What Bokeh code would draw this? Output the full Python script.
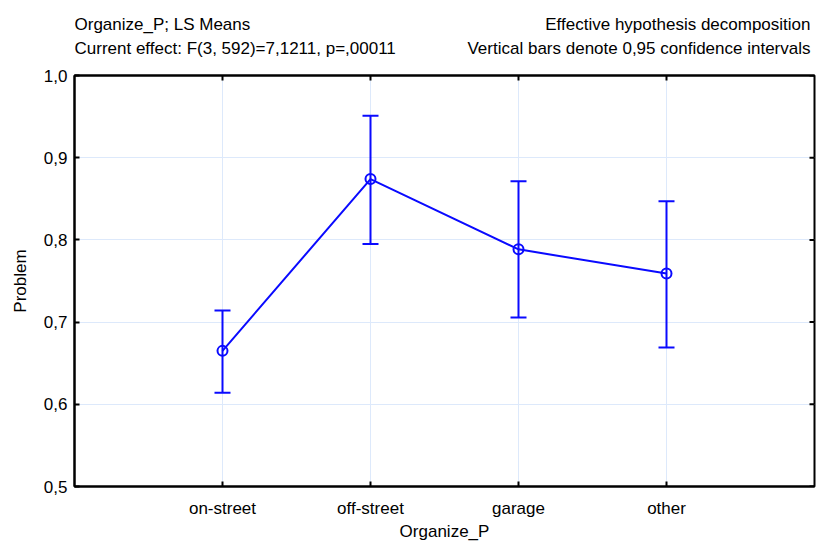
from bokeh.plotting import figure
from bokeh.layouts import column
from bokeh.models import (ColumnDataSource, Whisker, TeeHead, LinearAxis, Range1d,
                          FixedTicker)
from bokeh.core.properties import value
from bokeh.embed import file_html
from bokeh.resources import INLINE

categories = ["on-street", "off-street", "garage", "other"]
means = [0.665, 0.874, 0.7885, 0.759]
upper = [0.714, 0.951, 0.8715, 0.847]
lower = [0.614, 0.795, 0.7055, 0.669]
y_ticks = [0.5, 0.6, 0.7, 0.8, 0.9, 1.0]
y_tick_labels = ["0,5", "0,6", "0,7", "0,8", "0,9", "1,0"]

titles_left = ["Organize_P; LS Means", "Current effect: F(3, 592)=7,1211, p=,00011"]
titles_right = ["Effective hypothesis decomposition",
                "Vertical bars denote 0,95 confidence intervals"]

FONT = "Liberation Sans"
FS = "17px"
BLUE = "#0a0aff"
GRID = "#dde9fb"
W = 816
HEAD_H = 60
MAIN_H = 483
N = len(categories)

# ---- header with the four title texts (frame aligned with the main chart) ----
head = figure(width=W, height=HEAD_H, output_backend="svg", toolbar_location=None,
              x_range=Range1d(0, N + 1), y_range=Range1d(HEAD_H, 0),
              min_border=0, min_border_left=74, min_border_right=2,
              min_border_top=0, min_border_bottom=0)
head.axis.visible = False
head.grid.visible = False
head.outline_line_color = None
hsrc_l = ColumnDataSource(dict(x=[0, 0], y=[23.5, 48], t=titles_left))
hsrc_r = ColumnDataSource(dict(x=[N + 1, N + 1], y=[23.5, 48], t=titles_right))
head.text("x", "y", text="t", source=hsrc_l, text_align="left", text_baseline="middle",
          text_font=value(FONT), text_font_size=FS, text_color="black")
head.text("x", "y", text="t", source=hsrc_r, text_align="right", text_baseline="middle",
          x_offset=-4, text_font=value(FONT), text_font_size=FS, text_color="black")

# ---- main chart ----
xs = list(range(1, N + 1))
src = ColumnDataSource(dict(x=xs, m=means, up=upper, lo=lower))

p = figure(width=W, height=MAIN_H, output_backend="svg", toolbar_location=None,
           x_range=Range1d(0, N + 1), y_range=Range1d(0.5, 1.0),
           min_border_left=74, min_border_right=2, min_border_top=15, min_border_bottom=53)

p.outline_line_color = "black"
p.outline_line_width = 2

p.xaxis.ticker = FixedTicker(ticks=xs)
p.xaxis.major_label_overrides = {x: c for x, c in zip(xs, categories)}
p.yaxis.ticker = FixedTicker(ticks=y_ticks)
p.yaxis.major_label_overrides = {t: l for t, l in zip(y_ticks, y_tick_labels)}
p.xaxis.axis_label = "Organize_P"
p.yaxis.axis_label = "Problem"

for ax in (p.xaxis, p.yaxis):
    ax.major_tick_in = 5
    ax.major_tick_out = 0
    ax.minor_tick_line_color = None
    ax.axis_line_width = 2
    ax.major_tick_line_width = 2
    ax.major_label_text_font = FONT
    ax.major_label_text_font_size = FS
    ax.major_label_text_color = "black"
    ax.axis_label_text_font = FONT
    ax.axis_label_text_font_size = FS
    ax.axis_label_text_font_style = "normal"
    ax.axis_label_text_color = "black"
p.xaxis.major_label_standoff = 12
p.xaxis.axis_label_standoff = 1
p.yaxis.major_label_standoff = 7
p.yaxis.axis_label_standoff = 11

# top axis: inward ticks only
ax_t = LinearAxis(ticker=FixedTicker(ticks=xs), major_label_text_font_size="0px",
                  major_label_overrides={t: "" for t in xs},
                  major_tick_in=5, major_tick_out=0, minor_tick_line_color=None,
                  axis_line_width=2, major_tick_line_width=2,
                  major_label_standoff=0, axis_label_standoff=0)
p.add_layout(ax_t, "above")

p.xgrid.grid_line_color = GRID
p.ygrid.grid_line_color = GRID
p.xgrid.grid_line_width = 1
p.ygrid.grid_line_width = 1

# right edge inward ticks (dash markers centred on the frame edge, outer half clipped)
rsrc = ColumnDataSource(dict(x=[N + 1] * len(y_ticks), y=y_ticks))
p.scatter("x", "y", source=rsrc, marker="dash", size=10, line_color="black", line_width=2)

p.line("x", "m", source=src, line_color=BLUE, line_width=2)
p.add_layout(Whisker(source=src, base="x", upper="up", lower="lo",
                     line_color=BLUE, line_width=2,
                     upper_head=TeeHead(size=16, line_color=BLUE, line_width=2),
                     lower_head=TeeHead(size=16, line_color=BLUE, line_width=2)))
p.scatter("x", "m", source=src, size=10, marker="circle", fill_color=None,
          line_color=BLUE, line_width=2)

layout = column(head, p, spacing=0)
open("out.html", "w").write(file_html(layout, INLINE))
